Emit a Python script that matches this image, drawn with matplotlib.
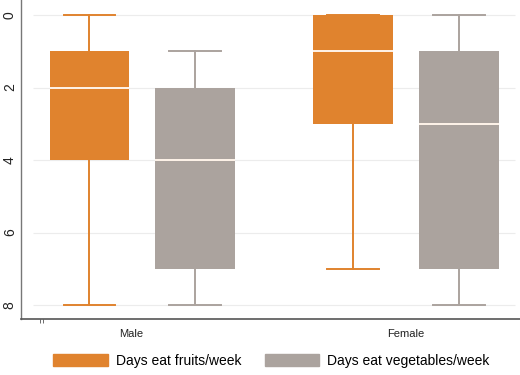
import matplotlib
matplotlib.use("Agg")
import matplotlib.pyplot as plt
from matplotlib.patches import Patch

plt.rcParams["font.family"] = ["Liberation Sans", "DejaVu Sans"]

GROUPS = ["Male", "Female"]
SERIES = ["Days eat fruits/week", "Days eat vegetables/week"]

# box statistics per group (Male, Female)
fruit_lo = [0, 0]
fruit_q1 = [1, 0]
fruit_med = [2, 1]
fruit_q3 = [4, 3]
fruit_hi = [8, 7]

veg_lo = [1, 0]
veg_q1 = [2, 1]
veg_med = [4, 3]
veg_q3 = [7, 7]
veg_hi = [8, 8]

Y_TICKS = [0, 2, 4, 6, 8]

FRUIT_COLOR = "#e0832e"
VEG_COLOR = "#aba39e"
MEDIAN_COLOR = "#fff4ea"


def make_stats(lo, q1, med, q3, hi):
	return [
		{"whislo": a, "q1": b, "med": c, "q3": d, "whishi": e, "fliers": []}
		for a, b, c, d, e in zip(lo, q1, med, q3, hi)
	]


def draw_boxes(ax, stats, positions, color):
	ax.bxp(
		stats,
		positions=positions,
		widths=80,
		capwidths=52,
		patch_artist=True,
		showfliers=False,
		boxprops=dict(facecolor=color, edgecolor=color, linewidth=0),
		whiskerprops=dict(color=color, linewidth=1.4),
		capprops=dict(color=color, linewidth=1.4),
		medianprops=dict(color=MEDIAN_COLOR, linewidth=1.4),
		manage_ticks=False,
	)


fig = plt.figure(figsize=(5.2, 3.75), dpi=100)
ax = fig.add_axes([21 / 520, 1 - 319 / 375, 499 / 520, 319 / 375])

ax.hlines(Y_TICKS, 33, 515, color="#ececec", linewidth=0.8, zorder=0)

draw_boxes(ax, make_stats(fruit_lo, fruit_q1, fruit_med, fruit_q3, fruit_hi), [89.5, 353.5], FRUIT_COLOR)
draw_boxes(ax, make_stats(veg_lo, veg_q1, veg_med, veg_q3, veg_hi), [195.5, 459], VEG_COLOR)

ax.set_xlim(21, 520)
ax.set_ylim(8 + 14 / 36.25, -15 / 36.25)

ax.set_yticks(Y_TICKS)
ax.set_yticklabels([str(v) for v in Y_TICKS], rotation=90, va="center", fontsize=10)
ax.tick_params(axis="y", length=0, pad=3, colors="#222222")

ax.set_xticks([131, 406])
ax.set_xticklabels(GROUPS, fontsize=8)
ax.tick_params(axis="x", length=0, pad=7, colors="#222222")
ax.set_xticks([39.5, 42.5], minor=True)
ax.tick_params(axis="x", which="minor", length=3, width=0.6, color="#555555")

for side in ("top", "right"):
	ax.spines[side].set_visible(False)
ax.spines["left"].set_color("#777777")
ax.spines["bottom"].set_color("#555555")
ax.spines["left"].set_linewidth(1.0)
ax.spines["bottom"].set_linewidth(1.2)

fig.legend(
	handles=[
		Patch(facecolor=FRUIT_COLOR, edgecolor=FRUIT_COLOR, label=SERIES[0]),
		Patch(facecolor=VEG_COLOR, edgecolor=VEG_COLOR, label=SERIES[1]),
	],
	loc="center",
	bbox_to_anchor=(0.522, 0.037),
	ncol=2,
	frameon=False,
	fontsize=10,
	handlelength=3.9,
	handleheight=0.95,
	handletextpad=0.58,
	columnspacing=1.7,
	borderpad=0,
)

fig.savefig("out.png", dpi=100)
